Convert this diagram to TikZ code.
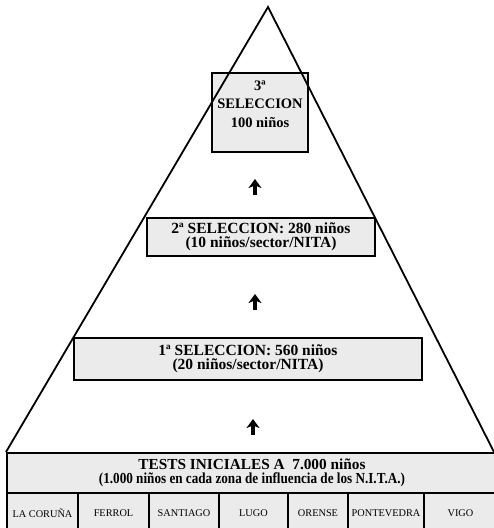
\documentclass[tikz,border=0pt]{standalone}
\usepackage{fontspec}
\usepackage{graphicx}
\setmainfont{Liberation Serif}
\usetikzlibrary{arrows.meta}
\begin{document}
\begin{tikzpicture}[x=1pt,y=-1pt,
  selbox/.style={draw=black,line width=2.6pt,fill=black!8,align=center,inner sep=0pt,
    font=\fontsize{15.5}{14}\selectfont\bfseries},
  seltext/.style={align=center,inner sep=0pt,font=\fontsize{14.5}{18.5}\selectfont\bfseries},
  cell/.style={draw=black,line width=2pt,fill=black!8,inner sep=0pt,minimum height=40pt,
    font=\fontsize{10.3}{11}\selectfont},
  upar/.style={line width=4.2pt,-{Stealth[length=9pt,width=13pt,inset=2.5pt]}},
  side/.style={line width=1.8pt}]
\useasboundingbox (0,0) rectangle (494,528);
% selection boxes
\node[selbox,minimum width=96pt,minimum height=79pt] (s3) at (260,112.5) {};
\node[seltext] (s3t) at (260,104) {3ª\\SELECCION\\100 niños};
\node[selbox,minimum width=228pt,minimum height=38pt] (s2) at (261,237)
  {2ª SELECCION: 280 niños\\(10 niños/sector/NITA)};
\node[selbox,minimum width=348pt,minimum height=42pt] (s1) at (248,359)
  {1ª SELECCION: 560 niños\\(20 niños/sector/NITA)};
% table
\node[cell,minimum width=490pt,minimum height=40pt,anchor=north west,
  font=\fontsize{15.3}{14}\selectfont\bfseries,align=center] (tests) at (6,452)
  {TESTS INICIALES A~ 7.000 niños\\\scalebox{0.86}[1]{(1.000 niños en cada zona de influencia de los N.I.T.A.)}};
\node[cell,anchor=north west,minimum width=71pt] (c1) at (6,492) {LA CORUÑA};
\node[cell,anchor=north west,minimum width=71pt] (c2) at (77,492) {FERROL};
\node[cell,anchor=north west,minimum width=70pt] (c3) at (148,492) {SANTIAGO};
\node[cell,anchor=north west,minimum width=69pt] (c4) at (218,492) {LUGO};
\node[cell,anchor=north west,minimum width=60pt] (c5) at (287,492) {ORENSE};
\node[cell,anchor=north west,minimum width=76pt] (c6) at (347,492) {PONTEVEDRA};
\node[cell,anchor=north west,minimum width=73pt] (c7) at (423,492) {VIGO};
% pyramid sides
\coordinate (apex) at (268,7);
\coordinate (bl) at (6,452);
\coordinate (br) at (494,452);
\draw[side] (bl) -- (apex) -- (br);
% arrows
\coordinate (a3s) at (255,195); \coordinate (a3e) at (255,179);
\coordinate (a2s) at (255,310); \coordinate (a2e) at (255,294);
\coordinate (a1s) at (253,435); \coordinate (a1e) at (253,419);
\draw[upar] (a3s) -- (a3e);
\draw[upar] (a2s) -- (a2e);
\draw[upar] (a1s) -- (a1e);
\end{tikzpicture}
\end{document}
